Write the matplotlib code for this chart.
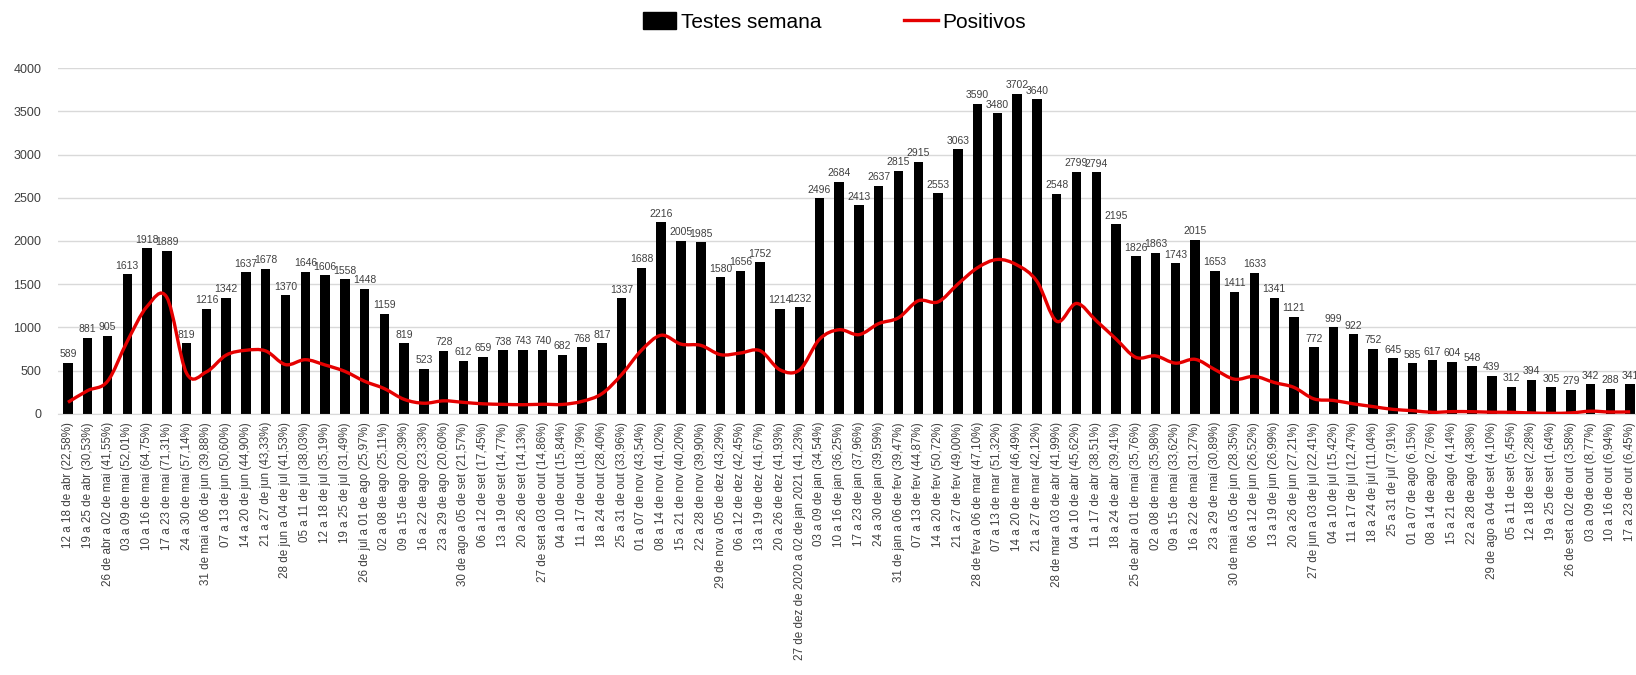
import matplotlib
matplotlib.use("Agg")
import matplotlib.pyplot as plt
from matplotlib.path import Path
from matplotlib.patches import PathPatch
from matplotlib.lines import Line2D
from matplotlib.patches import Patch
import numpy as np

# weekly periods (tick labels)
semanas = [
    "12 a 18 de abr (22,58%)", "19 a 25 de abr (30,53%)", "26 de abr a 02 de mai (41,55%)",
    "03 a 09 de mai (52,01%)", "10 a 16 de mai (64,75%)", "17 a 23 de mai (71,31%)",
    "24 a 30 de mai (57,14%)", "31 de mai a 06 de jun (39,88%)", "07 a 13 de jun (50,60%)",
    "14 a 20 de jun (44,90%)", "21 a 27 de jun (43,33%)", "28 de jun a 04 de jul (41,53%)",
    "05 a 11 de jul (38,03%)", "12 a 18 de jul (35,19%)", "19 a 25 de jul (31,49%)",
    "26 de jul a 01 de ago (25,97%)", "02 a 08 de ago (25,11%)", "09 a 15 de ago (20,39%)",
    "16 a 22 de ago (23,33%)", "23 a 29 de ago (20,60%)", "30 de ago a 05 de set (21,57%)",
    "06 a 12 de set (17,45%)", "13 a 19 de set (14,77%)", "20 a 26 de set (14,13%)",
    "27 de set a 03 de out (14,86%)", "04 a 10 de out (15,84%)", "11 a 17 de out (18,79%)",
    "18 a 24 de out (28,40%)", "25 a 31 de out (33,96%)", "01 a 07 de nov (43,54%)",
    "08 a 14 de nov (41,02%)", "15 a 21 de nov (40,20%)", "22 a 28 de nov (39,90%)",
    "29 de nov a 05 de dez (43,29%)", "06 a 12 de dez (42,45%)", "13 a 19 de dez (41,67%)",
    "20 a 26 de dez (41,93%)", "27 de dez de 2020 a 02 de jan 2021 (41,23%)", "03 a 09 de jan (34,54%)",
    "10 a 16 de jan (36,25%)", "17 a 23 de jan (37,96%)", "24 a 30 de jan (39,59%)",
    "31 de jan a 06 de fev (39,47%)", "07 a 13 de fev (44,87%)", "14 a 20 de fev (50,72%)",
    "21 a 27 de fev (49,00%)", "28 de fev a 06 de mar (47,10%)", "07 a 13 de mar (51,32%)",
    "14 a 20 de mar (46,49%)", "21 a 27 de mar (42,12%)", "28 de mar a 03 de abr (41,99%)",
    "04 a 10 de abr (45,62%)", "11 a 17 de abr (38,51%)", "18 a 24 de abr (39,41%)",
    "25 de abr a 01 de mai (35,76%)", "02 a 08 de mai (35,98%)", "09 a 15 de mai (33,62%)",
    "16 a 22 de mai (31,27%)", "23 a 29 de mai (30,89%)", "30 de mai a 05 de jun (28,35%)",
    "06 a 12 de jun (26,52%)", "13 a 19 de jun (26,99%)", "20 a 26 de jun (27,21%)",
    "27 de jun a 03 de jul (22,41%)", "04 a 10 de jul (15,42%)", "11 a 17 de jul (12,47%)",
    "18 a 24 de jul (11,04%)", "25 a 31 de jul (7,91%)", "01 a 07 de ago (6,15%)",
    "08 a 14 de ago (2,76%)", "15 a 21 de ago (4,14%)", "22 a 28 de ago (4,38%)",
    "29 de ago a 04 de set (4,10%)", "05 a 11 de set (5,45%)", "12 a 18 de set (2,28%)",
    "19 a 25 de set (1,64%)", "26 de set a 02 de out (3,58%)", "03 a 09 de out (8,77%)",
    "10 a 16 de out (6,94%)", "17 a 23 de out (6,45%)",
]

testes = [589, 881, 905, 1613, 1918, 1889, 819, 1216, 1342, 1637,
          1678, 1370, 1646, 1606, 1558, 1448, 1159, 819, 523, 728,
          612, 659, 738, 743, 740, 682, 768, 817, 1337, 1688,
          2216, 2005, 1985, 1580, 1656, 1752, 1214, 1232, 2496, 2684,
          2413, 2637, 2815, 2915, 2553, 3063, 3590, 3480, 3702, 3640,
          2548, 2799, 2794, 2195, 1826, 1863, 1743, 2015, 1653, 1411,
          1633, 1341, 1121, 772, 999, 922, 752, 645, 585, 617,
          604, 548, 439, 312, 394, 305, 279, 342, 288, 341]

positivos = [133, 269, 376, 839, 1242, 1347, 468, 485, 679, 735,
             727, 569, 626, 565, 491, 376, 291, 167, 122, 150,
             132, 115, 109, 105, 110, 108, 144, 232, 454, 735,
             909, 806, 792, 684, 703, 730, 509, 508, 862, 973,
             916, 1044, 1111, 1308, 1295, 1501, 1691, 1786, 1721, 1533,
             1070, 1277, 1076, 865, 653, 670, 586, 630, 511, 400,
             433, 362, 305, 173, 154, 115, 83, 51, 36, 17,
             25, 24, 18, 17, 9, 5, 10, 30, 20, 22]

plt.rcParams['font.family'] = ['Liberation Sans', 'DejaVu Sans']

fig = plt.figure(figsize=(16.36, 6.75), dpi=100)
ax = fig.add_axes([0.0355, 0.387, 0.967, 0.512])

x = np.arange(len(testes))
ax.bar(x, testes, width=0.48, color='black', zorder=2)

# value labels above bars
for xi, v in zip(x, testes):
    ax.text(xi, v + 40, str(v), ha='center', va='bottom', fontsize=7.5, color='#404040')

# smoothed line (Excel-like bezier through the points)
pts = np.column_stack([x, positivos]).astype(float)
verts = [pts[0]]
codes = [Path.MOVETO]
n = len(pts)
for i in range(n - 1):
    p0 = pts[max(i - 1, 0)]
    p1 = pts[i]
    p2 = pts[i + 1]
    p3 = pts[min(i + 2, n - 1)]
    c1 = p1 + (p2 - p0) / 6.0
    c2 = p2 - (p3 - p1) / 6.0
    verts += [c1, c2, p2]
    codes += [Path.CURVE4] * 3
ax.add_patch(PathPatch(Path(verts, codes), facecolor='none', edgecolor='#e50000', lw=2.4, zorder=3))

ax.set_ylim(0, 4000)
ax.set_xlim(-0.5, len(testes) - 0.5)
ax.set_yticks(np.arange(0, 4001, 500))
ax.tick_params(axis='y', length=0, labelsize=9, colors='#404040', pad=12)
ax.set_xticks(x)
ax.set_xticklabels(semanas, rotation=90, fontsize=8.4, color='#404040')
ax.tick_params(axis='x', length=0, pad=6)
ax.grid(axis='y', color='#d9d9d9', lw=1, zorder=0)
for s in ['top', 'right', 'left']:
    ax.spines[s].set_visible(False)
ax.spines['bottom'].set_color('#d9d9d9')

handles = [Patch(facecolor='black', edgecolor='black'),
           Line2D([0], [0], color='#e50000', lw=2.4)]
fig.legend(handles, ['Testes semana', 'Positivos'], loc='center', bbox_to_anchor=(0.51, 0.968),
           ncol=2, frameon=False, fontsize=15, handlelength=1.6, handleheight=0.9,
           columnspacing=4, handletextpad=0.2)

fig.savefig('out.png', dpi=100)
